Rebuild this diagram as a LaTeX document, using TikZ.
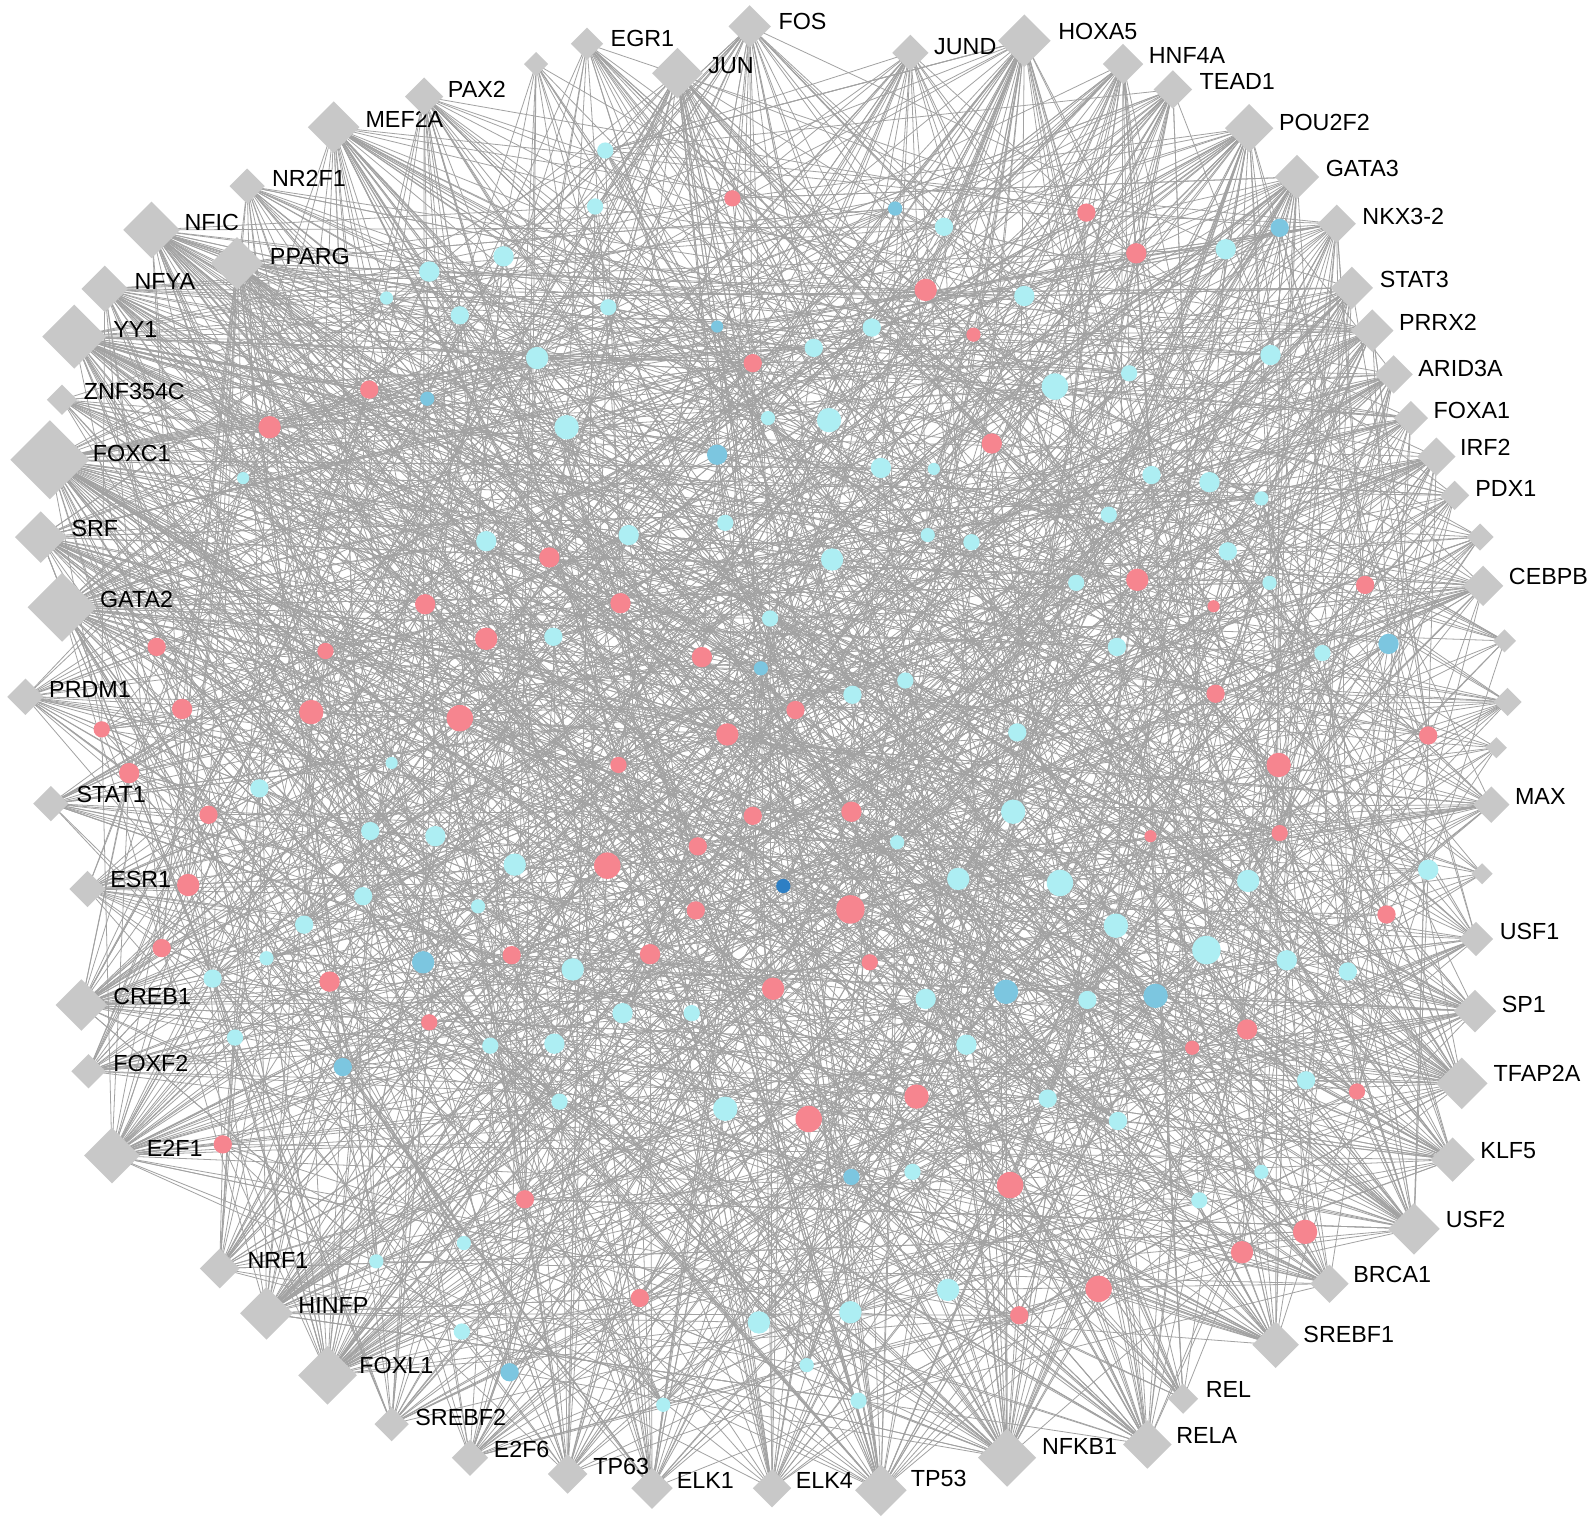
\documentclass[tikz,border=0pt]{standalone}
\usepackage{fontspec}
\setmainfont{Liberation Sans}
\usetikzlibrary{shapes.geometric}
\definecolor{diagray}{HTML}{C8C8C8}
\definecolor{edgegray}{HTML}{A2A2A2}
\definecolor{colC}{HTML}{ADEEF3}
\definecolor{colP}{HTML}{F6858F}
\definecolor{colB}{HTML}{7CC6E0}
\definecolor{colD}{HTML}{2E7FC4}
\pgfdeclarelayer{bgpaper}
\pgfdeclarelayer{edges}
\pgfsetlayers{bgpaper,edges,main}
\tikzset{
  tfnode/.style={diamond, aspect=1, fill=diagray, draw=none, inner sep=0pt},
  tgnode/.style={circle, draw=none, inner sep=0pt},
  tflabel/.style={anchor=west, inner sep=0pt, text=black, font=\fontsize{11.65pt}{14pt}\selectfont},
  edge/.style={draw=edgegray, line width=0.4pt}
}
\begin{document}
\begin{tikzpicture}[x=0.5086pt, y=-0.5086pt]
\begin{pgfonlayer}{bgpaper}
\fill[white] (0,0) rectangle (1568,1496);
\end{pgfonlayer}
\useasboundingbox (0,0) rectangle (1568,1496);
\pgfmathsetseed{24681}
% target circles
\foreach \x/\y/\r/\c [count=\i] in {
595/148/8/C, 720/195/8/P, 585/203/8/C, 880/205/7/B, 1068/209/9/P, 928/223/9/C,
1117/249/10/P, 1258/224/9/B, 1205/245/10/C, 495/252/10/C, 422/267/10/C, 380/293/6.5/C,
910/285/11/P, 1007/291/10/C, 598/302/8/C, 452/310/9/C, 705/321/6/B, 857/322/9/C,
957/329/7/P, 528/352/11/C, 740/357/9/P, 800/342/9/C, 1110/367/8/C, 1249/349/10/C,
1037/380/13/C, 363/383/9/P, 420/392/7/B, 265/420/11/P, 557/420/12/C, 755/411/7/C,
815/413/12/C, 975/436/10/P, 705/447/10/B, 239/470/6/C, 866/460/10/C, 918/461/6/C,
1132/467/9/C, 1189/474/10/C, 1240/490/7/C, 1090/506/8/C, 713/514/8/C, 478/532/10/C,
618/526/10/C, 912/526/7/C, 955/533/8/C, 1207/542/9/C, 818/550/11/C, 540/548/10/P,
1058/573/8/C, 1118/570/11/P, 1248/573/7/C, 1342/575/9/P, 1193/596/6/P, 418/594/10/P,
610/593/10/P, 757/608/8/C, 478/628/11/P, 544/626/9/C, 320/640/8/P, 154/636/9/P,
690/646/10/P, 1098/636/9/C, 1300/642/8/C, 1365/633/10/B, 748/657/7/B, 890/669/8/C,
838/683/9/C, 179/697/10/P, 306/700/12/P, 452/706/13/P, 782/698/9/P, 1195/682/9/P,
100/717/8/P, 715/722/11/P, 1000/720/9/C, 1404/723/9/P, 385/750/6/C, 608/752/8/P,
1257/752/12/P, 127/760/10/P, 255/775/9/C, 205/801/9/P, 740/802/9/P, 837/798/10/P,
996/798/12/C, 364/817/9/C, 428/822/10/C, 1131/822/6/P, 1258/819/8/P, 686/832/9/P,
882/828/7/C, 506/850/11/C, 597/851/13/P, 770/871/7/D, 942/864/11/C, 1042/868/13/C,
1227/866/11/C, 1404/855/10/C, 185/870/11/P, 357/881/9/C, 470/891/7/C, 684/895/9/P,
836/894/14/P, 1097/910/12/C, 1363/899/9/P, 299/909/9/C, 159/932/9/P, 262/942/7/C,
416/946/11/B, 503/939/9/P, 563/953/11/C, 639/938/10/P, 855/946/8/P, 1186/934/14/C,
1265/944/10/C, 209/962/9/C, 324/965/10/P, 760/972/11/P, 910/982/10/C, 989/975/12/B,
1069/983/9/C, 1136/979/12/B, 1325/955/9/C, 612/996/10/C, 680/996/8/C, 422/1005/8/P,
231/1020/8/C, 482/1028/8/C, 545/1026/10/C, 950/1027/10/C, 1172/1030/7/P, 1226/1012/10/P,
337/1049/9/B, 550/1083/8/C, 713/1090/12/C, 795/1100/13/P, 901/1078/12/P, 1030/1080/9/C,
1099/1102/9/C, 1284/1062/9/C, 1334/1073/8/P, 219/1125/9/P, 837/1157/8/B, 897/1152/8/C,
993/1165/13/P, 1240/1152/7/C, 1179/1180/8/C, 516/1179/9/P, 1283/1211/12/P, 1221/1231/11/P,
456/1222/7/C, 370/1240/7/C, 629/1276/9/P, 932/1268/11/C, 1080/1267/13/P, 746/1300/11/C,
836/1290/11/C, 1002/1293/9/P, 454/1309/8/C, 501/1349/9/B, 793/1342/7/C, 844/1377/8/C,
652/1381/7/C}{
  \node[tgnode, fill=col\c, minimum size=\r*1.0172pt] (c\i) at (\x,\y) {};
  \xdef\NC{\i}
}
% labelled TF diamonds
\foreach \l/\x/\y/\s/\lx/\ly [count=\i] in {
EGR1/577/43/16/600/38, FOS/737/26/21/765/21, JUN/666/72/25/696/64,
JUND/895/52/18/918/46, HOXA5/1007/40/26/1040/31, HNF4A/1104/63/20/1129/55,
TEAD1/1153/88/19/1179/80, POU2F2/1228/126/24/1257/120, GATA3/1275/174/22/1303/166,
NKX3-2/1314/220/19/1339/213, STAT3/1329/283/21/1356/275, PRRX2/1349/325/21/1375/317,
ARID3A/1370/368/19/1394/362, FOXA1/1387/411/17/1409/404, IRF2/1412/449/19/1435/440,
PDX1/1430/487/14.5/1450/480, CEBPB/1458/576/20/1483/567, MAX/1466/791/18/1489/783,
USF1/1451/923/17/1474/916, SP1/1450/994/21/1476/987, TFAP2A/1437/1065/25.5/1468/1055,
KLF5/1428/1140/22/1455/1131, USF2/1390/1208/25.5/1421/1199, BRCA1/1307/1262/19/1330/1253,
SREBF1/1254/1322/23/1281/1312, REL/1163/1375/15/1185/1366, RELA/1128/1420/24/1156/1411,
NFKB1/990/1433/28.7/1024/1422, TP53/866/1465/25.5/895/1453, ELK4/759/1463/19/782/1455,
ELK1/641/1463/20.5/665/1455, TP63/558/1449/19.5/583/1442, E2F6/462/1433/18/485/1425,
SREBF2/385/1400/17/408/1393, FOXL1/322/1352/29/353/1342, HINFP/262/1291/26/293/1283,
NRF1/216/1247/19.7/243/1239, E2F1/110/1136/27.5/144/1129, FOXF2/87/1053/17/111/1045,
CREB1/80/988/25.5/111/980, ESR1/86/874/18/108/865, STAT1/50/790/17.5/75/781,
PRDM1/25/685/18/48/678, GATA2/61/597/34/98/589, SRF/40/528/25.5/70/520,
FOXC1/49/452/39/91/446, ZNF354C/61/393/15/82/385, YY1/73/331/31.6/111/324,
NFYA/103/284/23/132/277, NFIC/149/226/28/181/219, PPARG/233/259/26/265/252,
NR2F1/243/183/17.5/267/175, MEF2A/328/125/25.5/359/117, PAX2/417/95/19/440/88}{
  \node[tfnode, minimum size=\s*1.0172pt] (d\i) at (\x,\y) {};
  \node[tflabel] (t\i) at (\lx,\ly) {\l};
  \pgfmathtruncatemacro\deg{2.4*(\s-6)}
  \begin{pgfonlayer}{edges}
    \foreach \k in {1,...,\deg}{
      \pgfmathrandominteger{\tg}{1}{\NC}
      \draw[edge] (d\i.center) -- (c\tg.center);
    }
  \end{pgfonlayer}
}
% unlabelled TF diamonds
\foreach \x/\y/\s [count=\i] in {
527/63/12, 1455/528/13.5, 1479/630/11.5, 1482/690/14, 1471/735/10.5, 1457/859/10.5}{
  \node[tfnode, minimum size=\s*1.0172pt] (u\i) at (\x,\y) {};
  \pgfmathtruncatemacro\deg{2.4*(\s-6)}
  \begin{pgfonlayer}{edges}
    \foreach \k in {1,...,\deg}{
      \pgfmathrandominteger{\tg}{1}{\NC}
      \draw[edge] (u\i.center) -- (c\tg.center);
    }
  \end{pgfonlayer}
}
\end{tikzpicture}
\end{document}
